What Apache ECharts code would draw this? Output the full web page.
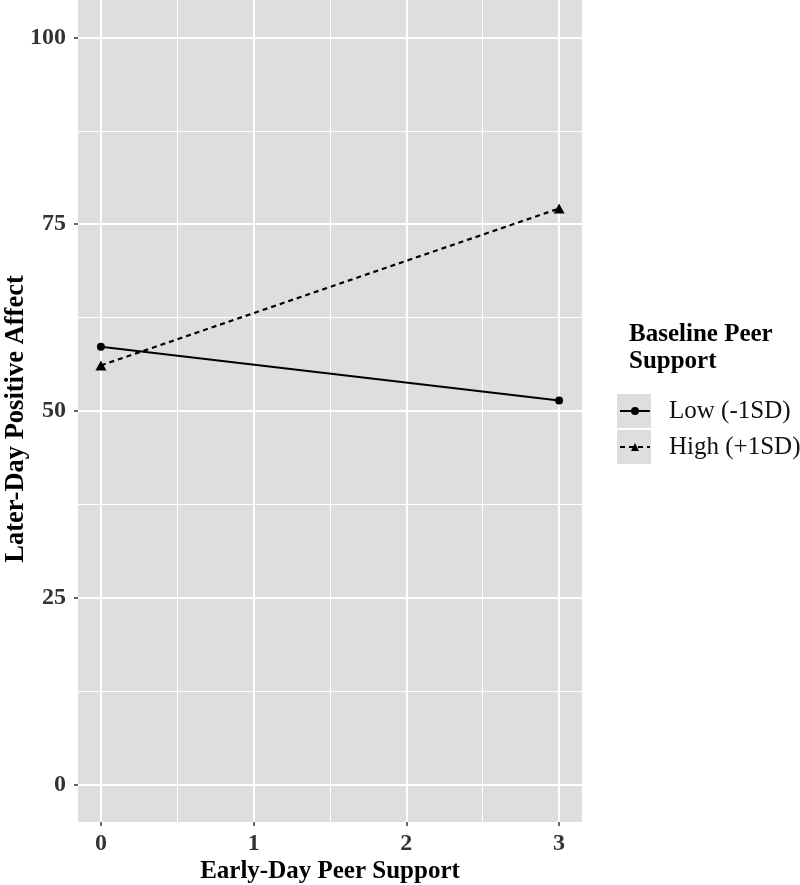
<!DOCTYPE html>
<html>
<head>
<meta charset="utf-8">
<script src="https://cdn.jsdelivr.net/npm/echarts@6/dist/echarts.min.js"></script>
<style>
  html, body { margin: 0; padding: 0; background: #fff; }
  #chart { width: 800px; height: 885px; }
</style>
</head>
<body>
<div id="chart"></div>
<script>
// values
const xVals = [0, 3];
const lowVals = [58.6, 51.4];
const highVals = [56.1, 77.1];
const seriesNames = ['Low (-1SD)', 'High (+1SD)'];
const xTicks = [0, 1, 2, 3];
const xMinor = [0.5, 1.5, 2.5];
const yTicks = [0, 25, 50, 75, 100];
const yMinor = [12.5, 37.5, 62.5, 87.5];

const SERIF = '"Liberation Serif", "DejaVu Serif", serif';
const PANEL = '#dedede';

const chart = echarts.init(document.getElementById('chart'));

const pairs = vals => xVals.map((x, i) => [x, vals[i]]);

chart.setOption({
  animation: false,
  backgroundColor: '#fff',
  title: {
    text: 'Baseline Peer\nSupport',
    left: 629, top: 321, padding: 0,
    textStyle: { fontFamily: SERIF, fontSize: 25, fontWeight: 'bold', color: '#000', lineHeight: 27 }
  },
  legend: {
    orient: 'vertical',
    left: 619, top: 398, padding: 0,
    itemWidth: 30, itemHeight: 10, itemGap: 10,
    data: seriesNames,
    textStyle: { fontFamily: SERIF, fontSize: 25, color: '#111', lineHeight: 26, padding: [0, 0, 0, 14] }
  },
  graphic: [
    { type: 'rect', left: 617, top: 394, z: -1, shape: { width: 34, height: 34 }, style: { fill: PANEL } },
    { type: 'rect', left: 617, top: 430, z: -1, shape: { width: 34, height: 34 }, style: { fill: PANEL } }
  ],
  grid: {
    left: 78, right: 218, top: 0, bottom: 63,
    outerBoundsMode: 'none', containLabel: false,
    show: true, backgroundColor: PANEL, borderWidth: 0
  },
  xAxis: [
    {
      type: 'value', min: -0.15, max: 3.15,
      name: 'Early-Day Peer Support', nameLocation: 'middle', nameGap: 37, nameMoveOverlap: false,
      nameTextStyle: { fontFamily: SERIF, fontSize: 25, fontWeight: 'bold', color: '#000' },
      axisLine: { show: false, onZero: false },
      axisTick: { show: true, length: 4, customValues: xTicks, lineStyle: { color: '#333', width: 1.5 } },
      axisLabel: { customValues: xTicks, margin: 10, fontFamily: SERIF, fontSize: 24, fontWeight: 'bold', color: '#333' },
      splitLine: { show: true, lineStyle: { color: '#fff', width: 2 } }
    },
    {
      type: 'value', min: -0.15, max: 3.15, position: 'top',
      axisLine: { show: false, onZero: false },
      axisTick: { show: false, customValues: xMinor },
      axisLabel: { show: false },
      splitLine: { show: true, lineStyle: { color: '#fff', width: 1 } }
    }
  ],
  yAxis: [
    {
      type: 'value', min: -5, max: 105,
      name: 'Later-Day Positive Affect', nameLocation: 'middle', nameGap: 48, nameMoveOverlap: false,
      nameTextStyle: { fontFamily: SERIF, fontSize: 26.5, fontWeight: 'bold', color: '#000', padding: [0, 16, 0, 0] },
      axisLine: { show: false, onZero: false },
      axisTick: { show: true, length: 4, customValues: yTicks, lineStyle: { color: '#333', width: 1.5 } },
      axisLabel: { customValues: yTicks, margin: 12, fontFamily: SERIF, fontSize: 24, fontWeight: 'bold', color: '#333' },
      splitLine: { show: true, lineStyle: { color: '#fff', width: 2 } }
    },
    {
      type: 'value', min: -5, max: 105, position: 'right',
      axisLine: { show: false, onZero: false },
      axisTick: { show: false, customValues: yMinor },
      axisLabel: { show: false },
      splitLine: { show: true, lineStyle: { color: '#fff', width: 1 } }
    }
  ],
  series: [
    {
      name: seriesNames[0], type: 'line', xAxisIndex: 0, yAxisIndex: 0,
      data: pairs(lowVals),
      symbol: 'circle', symbolSize: 8,
      lineStyle: { color: '#000', width: 2, type: 'solid' },
      itemStyle: { color: '#000' }
    },
    {
      name: seriesNames[1], type: 'line', xAxisIndex: 0, yAxisIndex: 0,
      data: pairs(highVals),
      symbol: 'triangle', symbolSize: [11, 10],
      lineStyle: { color: '#000', width: 2.2, type: [5, 4] },
      itemStyle: { color: '#000' }
    }
  ]
});
</script>
</body>
</html>
